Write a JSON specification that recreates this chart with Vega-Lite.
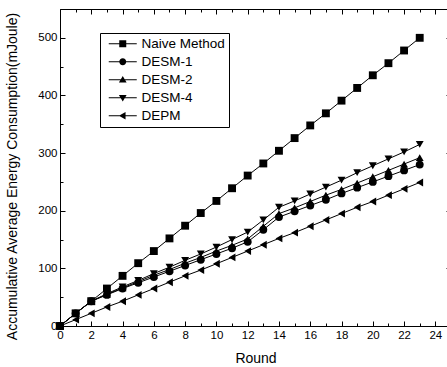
{
  "$schema": "https://vega.github.io/schema/vega-lite/v6.json",
  "width": 391,
  "height": 317,
  "autosize": {"type": "none"},
  "padding": {"left": 60, "top": 9, "right": 0, "bottom": 41},
  "background": "white",
  "config": {
    "font": "Liberation Sans",
    "view": {"stroke": "black", "strokeWidth": 1},
    "axis": {"grid": false, "domainColor": "black", "tickColor": "black", "labelColor": "black", "titleColor": "black", "labelFont": "Liberation Sans", "titleFont": "Liberation Sans", "titleFontWeight": "normal", "labelFontSize": 11.5, "titleFontSize": 14}
  },
  "datasets": {
    "d": [
      {"round": 0, "value": 0, "series": "Naive Method"},
      {"round": 1, "value": 22, "series": "Naive Method"},
      {"round": 2, "value": 43, "series": "Naive Method"},
      {"round": 3, "value": 65, "series": "Naive Method"},
      {"round": 4, "value": 87, "series": "Naive Method"},
      {"round": 5, "value": 109, "series": "Naive Method"},
      {"round": 6, "value": 130, "series": "Naive Method"},
      {"round": 7, "value": 152, "series": "Naive Method"},
      {"round": 8, "value": 174, "series": "Naive Method"},
      {"round": 9, "value": 196, "series": "Naive Method"},
      {"round": 10, "value": 217, "series": "Naive Method"},
      {"round": 11, "value": 239, "series": "Naive Method"},
      {"round": 12, "value": 261, "series": "Naive Method"},
      {"round": 13, "value": 282, "series": "Naive Method"},
      {"round": 14, "value": 304, "series": "Naive Method"},
      {"round": 15, "value": 326, "series": "Naive Method"},
      {"round": 16, "value": 348, "series": "Naive Method"},
      {"round": 17, "value": 369, "series": "Naive Method"},
      {"round": 18, "value": 391, "series": "Naive Method"},
      {"round": 19, "value": 413, "series": "Naive Method"},
      {"round": 20, "value": 435, "series": "Naive Method"},
      {"round": 21, "value": 456, "series": "Naive Method"},
      {"round": 22, "value": 478, "series": "Naive Method"},
      {"round": 23, "value": 500, "series": "Naive Method"},
      {"round": 0, "value": 0, "series": "DESM-1"},
      {"round": 1, "value": 22, "series": "DESM-1"},
      {"round": 2, "value": 43, "series": "DESM-1"},
      {"round": 3, "value": 54, "series": "DESM-1"},
      {"round": 4, "value": 65, "series": "DESM-1"},
      {"round": 5, "value": 75, "series": "DESM-1"},
      {"round": 6, "value": 85, "series": "DESM-1"},
      {"round": 7, "value": 95, "series": "DESM-1"},
      {"round": 8, "value": 105, "series": "DESM-1"},
      {"round": 9, "value": 115, "series": "DESM-1"},
      {"round": 10, "value": 125, "series": "DESM-1"},
      {"round": 11, "value": 135, "series": "DESM-1"},
      {"round": 12, "value": 146, "series": "DESM-1"},
      {"round": 13, "value": 167, "series": "DESM-1"},
      {"round": 14, "value": 189, "series": "DESM-1"},
      {"round": 15, "value": 199, "series": "DESM-1"},
      {"round": 16, "value": 209, "series": "DESM-1"},
      {"round": 17, "value": 219, "series": "DESM-1"},
      {"round": 18, "value": 230, "series": "DESM-1"},
      {"round": 19, "value": 240, "series": "DESM-1"},
      {"round": 20, "value": 250, "series": "DESM-1"},
      {"round": 21, "value": 260, "series": "DESM-1"},
      {"round": 22, "value": 270, "series": "DESM-1"},
      {"round": 23, "value": 280, "series": "DESM-1"},
      {"round": 0, "value": 0, "series": "DESM-2"},
      {"round": 1, "value": 22, "series": "DESM-2"},
      {"round": 2, "value": 43, "series": "DESM-2"},
      {"round": 3, "value": 55, "series": "DESM-2"},
      {"round": 4, "value": 66, "series": "DESM-2"},
      {"round": 5, "value": 77, "series": "DESM-2"},
      {"round": 6, "value": 88, "series": "DESM-2"},
      {"round": 7, "value": 98, "series": "DESM-2"},
      {"round": 8, "value": 109, "series": "DESM-2"},
      {"round": 9, "value": 119, "series": "DESM-2"},
      {"round": 10, "value": 130, "series": "DESM-2"},
      {"round": 11, "value": 140, "series": "DESM-2"},
      {"round": 12, "value": 151, "series": "DESM-2"},
      {"round": 13, "value": 173, "series": "DESM-2"},
      {"round": 14, "value": 195, "series": "DESM-2"},
      {"round": 15, "value": 205, "series": "DESM-2"},
      {"round": 16, "value": 216, "series": "DESM-2"},
      {"round": 17, "value": 227, "series": "DESM-2"},
      {"round": 18, "value": 237, "series": "DESM-2"},
      {"round": 19, "value": 248, "series": "DESM-2"},
      {"round": 20, "value": 259, "series": "DESM-2"},
      {"round": 21, "value": 270, "series": "DESM-2"},
      {"round": 22, "value": 281, "series": "DESM-2"},
      {"round": 23, "value": 292, "series": "DESM-2"},
      {"round": 0, "value": 0, "series": "DESM-4"},
      {"round": 1, "value": 22, "series": "DESM-4"},
      {"round": 2, "value": 43, "series": "DESM-4"},
      {"round": 3, "value": 56, "series": "DESM-4"},
      {"round": 4, "value": 68, "series": "DESM-4"},
      {"round": 5, "value": 79, "series": "DESM-4"},
      {"round": 6, "value": 91, "series": "DESM-4"},
      {"round": 7, "value": 102, "series": "DESM-4"},
      {"round": 8, "value": 114, "series": "DESM-4"},
      {"round": 9, "value": 125, "series": "DESM-4"},
      {"round": 10, "value": 137, "series": "DESM-4"},
      {"round": 11, "value": 150, "series": "DESM-4"},
      {"round": 12, "value": 163, "series": "DESM-4"},
      {"round": 13, "value": 184, "series": "DESM-4"},
      {"round": 14, "value": 206, "series": "DESM-4"},
      {"round": 15, "value": 217, "series": "DESM-4"},
      {"round": 16, "value": 229, "series": "DESM-4"},
      {"round": 17, "value": 241, "series": "DESM-4"},
      {"round": 18, "value": 253, "series": "DESM-4"},
      {"round": 19, "value": 266, "series": "DESM-4"},
      {"round": 20, "value": 278, "series": "DESM-4"},
      {"round": 21, "value": 290, "series": "DESM-4"},
      {"round": 22, "value": 302, "series": "DESM-4"},
      {"round": 23, "value": 315, "series": "DESM-4"},
      {"round": 0, "value": 0, "series": "DEPM"},
      {"round": 1, "value": 11, "series": "DEPM"},
      {"round": 2, "value": 22, "series": "DEPM"},
      {"round": 3, "value": 33, "series": "DEPM"},
      {"round": 4, "value": 43, "series": "DEPM"},
      {"round": 5, "value": 54, "series": "DEPM"},
      {"round": 6, "value": 65, "series": "DEPM"},
      {"round": 7, "value": 76, "series": "DEPM"},
      {"round": 8, "value": 87, "series": "DEPM"},
      {"round": 9, "value": 97, "series": "DEPM"},
      {"round": 10, "value": 108, "series": "DEPM"},
      {"round": 11, "value": 119, "series": "DEPM"},
      {"round": 12, "value": 130, "series": "DEPM"},
      {"round": 13, "value": 141, "series": "DEPM"},
      {"round": 14, "value": 152, "series": "DEPM"},
      {"round": 15, "value": 162, "series": "DEPM"},
      {"round": 16, "value": 173, "series": "DEPM"},
      {"round": 17, "value": 184, "series": "DEPM"},
      {"round": 18, "value": 195, "series": "DEPM"},
      {"round": 19, "value": 206, "series": "DEPM"},
      {"round": 20, "value": 216, "series": "DEPM"},
      {"round": 21, "value": 227, "series": "DEPM"},
      {"round": 22, "value": 238, "series": "DEPM"},
      {"round": 23, "value": 249, "series": "DEPM"}
    ]
  },
  "data": {"name": "d"},
  "resolve": {"scale": {"shape": "independent"}, "axis": {"x": "independent", "y": "independent"}},
  "layer": [
    {
      "mark": {"type": "line", "color": "black", "strokeWidth": 1},
      "encoding": {
        "x": {"field": "round", "type": "quantitative", "scale": {"domain": [0, 25], "nice": false, "zero": false},
          "axis": {"orient": "bottom", "title": "Round", "values": [0,1,2,3,4,5,6,7,8,9,10,11,12,13,14,15,16,17,18,19,20,21,22,23,24],
            "labelExpr": "datum.value % 2 == 0 ? datum.label : ''", "tickSize": {"condition": {"test": "datum.value % 2 == 0", "value": -5}, "value": -3},
            "labelPadding": 8, "titlePadding": 11, "labelFlush": false}},
        "y": {"field": "value", "type": "quantitative", "scale": {"domain": [0, 550], "nice": false},
          "axis": {"orient": "left", "title": "Accumulative Average Energy Consumption(mJoule)", "values": [0,50,100,150,200,250,300,350,400,450,500],
            "labelExpr": "datum.value % 100 == 0 ? datum.label : ''", "tickSize": {"condition": {"test": "datum.value % 100 == 0", "value": -5}, "value": -3},
            "labelPadding": 8, "titleX": -48, "titleY": 167, "titleBaseline": "middle", "titleAlign": "center", "labelFlush": false}},
        "detail": {"field": "series"}
      }
    },
    {
      "mark": {"type": "point", "filled": true, "color": "black", "opacity": 1, "size": 62},
      "encoding": {
        "x": {"field": "round", "type": "quantitative",
          "axis": {"orient": "top", "title": null, "labels": false, "domain": false, "values": [0,1,2,3,4,5,6,7,8,9,10,11,12,13,14,15,16,17,18,19,20,21,22,23,24,25],
            "tickSize": {"condition": {"test": "datum.value % 2 == 0", "value": -5}, "value": -3}}},
        "y": {"field": "value", "type": "quantitative",
          "axis": {"orient": "right", "title": null, "labels": false, "domain": false, "values": [0,50,100,150,200,250,300,350,400,450,500],
            "tickSize": {"condition": {"test": "datum.value % 100 == 0", "value": -5}, "value": -3}}},
        "shape": {"field": "series", "type": "nominal", "legend": null,
          "scale": {"domain": ["Naive Method", "DESM-1", "DESM-2", "DESM-4", "DEPM"], "range": ["square", "circle", "triangle-up", "triangle-down", "triangle-left"]}}
      }
    },
    {
      "transform": [{"filter": "datum.round < 0"}],
      "mark": {"type": "point", "filled": true, "fill": "black", "opacity": 1},
      "encoding": {
        "x": {"field": "round", "type": "quantitative", "axis": null},
        "y": {"field": "value", "type": "quantitative", "axis": null},
        "shape": {"field": "series", "type": "nominal",
          "scale": {"domain": ["Naive Method", "DESM-1", "DESM-2", "DESM-4", "DEPM"],
            "range": [
              "M-4,-0.15H4V0.15H-4ZM-1,-1H1V1H-1Z",
              "M-4,-0.15H4V0.15H-4ZM1,0A1,1 0 1,1 -1,0A1,1 0 1,1 1,0Z",
              "M-4,-0.15H4V0.15H-4ZM0,-1.1L1.1,0.8H-1.1Z",
              "M-4,-0.15H4V0.15H-4ZM0,1.1L-1.1,-0.8H1.1Z",
              "M-4,-0.15H4V0.15H-4ZM-1.1,0L0.8,-1.1V1.1Z"]},
          "legend": {"title": null, "orient": "none", "legendX": 40, "legendY": 24, "symbolSize": 49,
            "symbolFillColor": "black", "symbolStrokeWidth": 0,
            "labelFontSize": 13.5, "labelColor": "black", "labelFont": "Liberation Sans", "rowPadding": 3,
            "symbolOffset": 12, "labelOffset": 12, "padding": 4, "strokeColor": "black", "fillColor": "white"}}
      }
    }
  ]
}
